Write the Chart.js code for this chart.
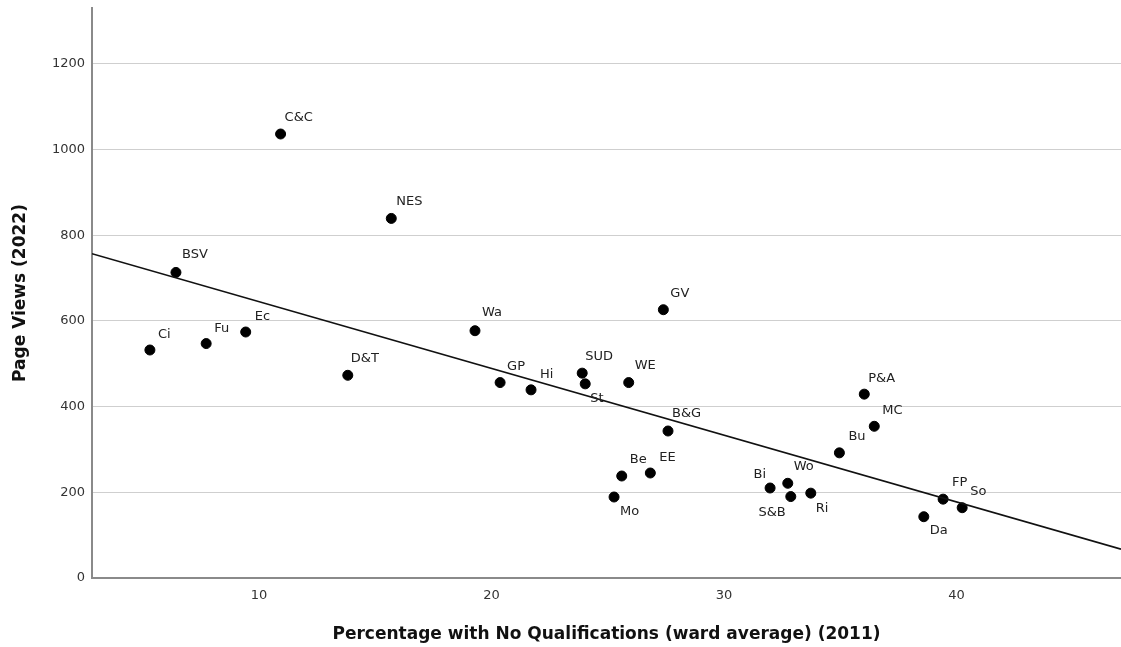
<!DOCTYPE html>
<html>
<head>
<meta charset="utf-8">
<script src="https://cdn.jsdelivr.net/npm/chart.js@4/dist/chart.umd.min.js"></script>
<style>
  html, body { margin: 0; padding: 0; background: #fff; }
  #wrap { width: 1121px; height: 647px; position: relative; }
</style>
</head>
<body>
<div id="wrap"><canvas id="chart" width="1121" height="647"></canvas></div>
<script>
// Ward codes, % with no qualifications (2011) and page views (2022)
const wards = ['Ci', 'Fu', 'Ec', 'BSV', 'C&C', 'NES', 'D&T', 'Wa', 'GP', 'Hi', 'SUD', 'St', 'WE', 'GV',
               'B&G', 'Be', 'EE', 'Mo', 'P&A', 'MC', 'Bu', 'Wo', 'Bi', 'S&B', 'Ri', 'FP', 'So', 'Da'];
const noQualPct = [5.31, 7.73, 9.43, 6.43, 10.93, 15.69, 13.82, 19.29, 20.37, 21.70, 23.90, 24.03, 25.90, 27.39,
                   27.59, 25.60, 26.83, 25.27, 36.03, 36.46, 34.96, 32.74, 31.98, 32.87, 33.73, 39.42, 40.24, 38.59];
const pageViews = [532, 547, 574, 713, 1036, 839, 473, 577, 456, 439, 478, 453, 456, 626,
                   343, 238, 245, 189, 429, 354, 292, 221, 210, 190, 198, 184, 164, 143];

const xTicks = [10, 20, 30, 40];
const yTicks = [0, 200, 400, 600, 800, 1000, 1200];
const xRange = [2.82, 47.07];
const yRange = [0, 1330];

// Label placement around each marker (pixels: dx, dy, text alignment)
const labelPlacement = {
  'Ci': [8, -15, 'left'], 'Fu': [8, -15, 'left'], 'Ec': [9, -15, 'left'], 'BSV': [6, -18, 'left'],
  'C&C': [4, -16, 'left'], 'NES': [5, -17, 'left'], 'D&T': [3, -17, 'left'], 'Wa': [7, -18, 'left'],
  'GP': [7, -16, 'left'], 'Hi': [9, -15, 'left'], 'SUD': [3, -17, 'left'], 'St': [5, 15, 'left'],
  'WE': [6, -17, 'left'], 'GV': [7, -16, 'left'], 'B&G': [4, -17, 'left'], 'Be': [8, -16, 'left'],
  'EE': [9, -15, 'left'], 'Mo': [6, 15, 'left'], 'P&A': [4, -16, 'left'], 'MC': [8, -16, 'left'],
  'Bu': [9, -16, 'left'], 'Wo': [6, -17, 'left'], 'Bi': [-4, -13, 'right'], 'S&B': [-5, 16, 'right'],
  'Ri': [5, 15, 'left'], 'FP': [9, -17, 'left'], 'So': [8, -16, 'left'], 'Da': [6, 14, 'left']
};

// Ordinary least-squares fit of page views on % no qualifications
function leastSquares(xs, ys) {
  const n = xs.length;
  const mx = xs.reduce((a, b) => a + b, 0) / n;
  const my = ys.reduce((a, b) => a + b, 0) / n;
  let sxy = 0, sxx = 0;
  for (let i = 0; i < n; i++) {
    sxy += (xs[i] - mx) * (ys[i] - my);
    sxx += (xs[i] - mx) * (xs[i] - mx);
  }
  const slope = sxy / sxx;
  return { slope, intercept: my - slope * mx };
}
const fit = leastSquares(noQualPct, pageViews);
const fitLine = xRange.map(x => ({ x, y: fit.intercept + fit.slope * x }));

const points = wards.map((w, i) => ({ x: noQualPct[i], y: pageViews[i], name: w }));

const FONT = '"DejaVu Sans", "Open Sans", sans-serif';

const pointLabels = {
  id: 'pointLabels',
  afterDatasetsDraw(chart) {
    const meta = chart.getDatasetMeta(1);
    const ctx = chart.ctx;
    ctx.save();
    ctx.font = '13px ' + FONT;
    ctx.fillStyle = '#222';
    ctx.textBaseline = 'middle';
    meta.data.forEach((el, i) => {
      const name = points[i].name;
      const [dx, dy, align] = labelPlacement[name] || [6, -15, 'left'];
      ctx.textAlign = align;
      ctx.fillText(name, el.x + dx, el.y + dy);
    });
    ctx.restore();
  }
};

new Chart(document.getElementById('chart'), {
  type: 'scatter',
  data: {
    datasets: [
      {
        type: 'line',
        data: fitLine,
        borderColor: '#111',
        borderWidth: 1.6,
        pointRadius: 0,
        fill: false
      },
      {
        data: points,
        backgroundColor: '#000',
        borderColor: '#000',
        pointRadius: 5,
        pointHoverRadius: 5
      }
    ]
  },
  options: {
    responsive: false,
    animation: false,
    events: [],
    layout: { autoPadding: false, padding: { top: 8, right: 0, bottom: 0, left: 0 } },
    plugins: { legend: { display: false }, tooltip: { enabled: false } },
    scales: {
      x: {
        type: 'linear',
        min: xRange[0],
        max: xRange[1],
        grid: { display: false, drawTicks: false },
        border: { display: true, color: '#8a8a8a', width: 2 },
        afterBuildTicks: s => { s.ticks = xTicks.map(v => ({ value: v })); },
        ticks: { color: '#333', font: { family: FONT, size: 13 }, padding: 10, maxRotation: 0,
                 callback: v => String(v) },
        title: {
          display: true,
          text: 'Percentage with No Qualifications (ward average) (2011)',
          color: '#111',
          font: { family: FONT, size: 17, weight: 'bold' },
          padding: { top: 0, bottom: 2 }
        },
        afterFit: s => { s.height = 69; s.paddingLeft = 0; s.paddingRight = 0; }
      },
      y: {
        type: 'linear',
        min: yRange[0],
        max: yRange[1],
        grid: { color: '#cfcfcf', lineWidth: 1, drawTicks: false },
        border: { display: true, color: '#8a8a8a', width: 2 },
        afterBuildTicks: s => { s.ticks = yTicks.map(v => ({ value: v })); },
        ticks: { color: '#333', font: { family: FONT, size: 13 }, padding: 7,
                 callback: v => String(v) },
        title: {
          display: true,
          text: 'Page Views (2022)',
          color: '#111',
          font: { family: FONT, size: 17, weight: 'bold' },
          padding: { top: 10, bottom: 0 }
        },
        afterFit: s => { s.width = 92; s.paddingTop = 0; s.paddingBottom = 0; }
      }
    }
  },
  plugins: [pointLabels]
});
</script>
</body>
</html>
